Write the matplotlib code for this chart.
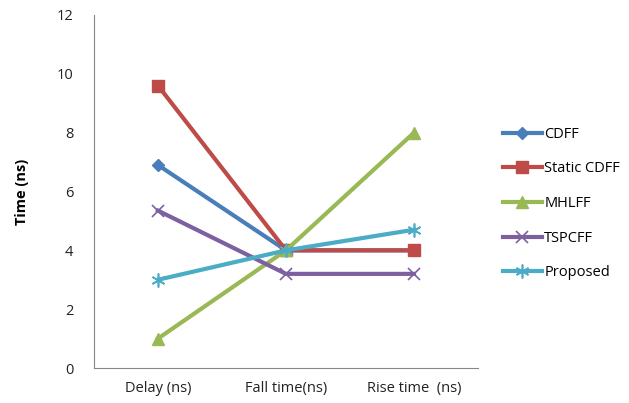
import matplotlib
matplotlib.use("Agg")
from matplotlib import pyplot as plt

plt.rcParams['font.family'] = ['Open Sans', 'DejaVu Sans']

categories = ['Delay (ns)', 'Fall time(ns)', 'Rise time  (ns)']
cdff = [6.9, 4.0, 4.0]
static_cdff = [9.6, 4.0, 4.0]
mhlff = [1.0, 4.0, 8.0]
tspcff = [5.35, 3.2, 3.2]
proposed = [3.0, 4.0, 4.7]

series = [
    ('CDFF', cdff, '#4A7EBB', 'D', 6),
    ('Static CDFF', static_cdff, '#BE4B48', 's', 8),
    ('MHLFF', mhlff, '#98B954', '^', 8),
    ('TSPCFF', tspcff, '#7D60A0', 'x', 9),
    ('Proposed', proposed, '#4BACC6', (6, 2, 0), 10),
]

fig = plt.figure(figsize=(6.29, 4.03), dpi=100)
ax = fig.add_axes([0.1494, 0.0868, 0.6105, 0.876])

x = range(len(categories))
for name, vals, col, mk, ms in series:
    ax.plot(x, vals, color=col, lw=3, marker=mk, markersize=ms,
            markeredgewidth=1.2 if mk == 'x' or isinstance(mk, tuple) else 1,
            markeredgecolor=col, markerfacecolor=col, label=name)

ax.set_xlim(-0.5, 2.5)
ax.set_ylim(0, 12)
ax.set_yticks(range(0, 13, 2))
ax.set_xticks(list(x))
ax.set_xticklabels(categories)
ax.tick_params(length=0, labelsize=10.5, colors='#222222')
ax.tick_params(axis='x', pad=9)
ax.tick_params(axis='y', pad=15)
for s in ('top', 'right'):
    ax.spines[s].set_visible(False)
for s in ('left', 'bottom'):
    ax.spines[s].set_color('#868686')
ax.set_ylabel('Time (ns)', fontsize=10.5, fontweight='bold', labelpad=20)

ax.legend(loc='center left', bbox_to_anchor=(1.03, 0.466), frameon=False,
          fontsize=10.5, handlelength=2.7, handletextpad=0.15, labelspacing=1.35)

fig.savefig('out.png', dpi=100)
